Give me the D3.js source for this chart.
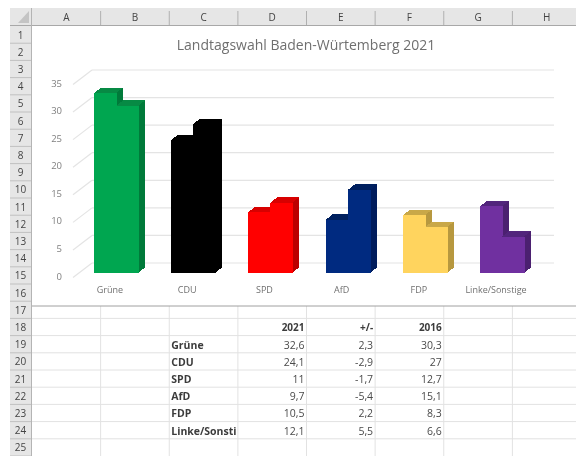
<!DOCTYPE html>
<html>
<head>
<meta charset="utf-8">
<script src="https://cdn.jsdelivr.net/npm/d3@7/dist/d3.min.js"></script>
<style>
  html, body { margin: 0; padding: 0; background: #fff; }
  svg { display: block; filter: blur(0.5px); }
  text { font-family: "Open Sans", sans-serif; }
</style>
</head>
<body>
<div id="chart"></div>
<script>
const categories = ["Grüne", "CDU", "SPD", "AfD", "FDP", "Linke/Sonstige"]
const votes2021 = [32.6, 24.1, 11, 9.7, 10.5, 12.1]
const change = [2.3, -2.9, -1.7, -5.4, 2.2, 5.5]
const votes2016 = [30.3, 27, 12.7, 15.1, 8.3, 6.6]
const tableHeader = ["2021", "+/-", "2016"]
const yTicks = [0, 5, 10, 15, 20, 25, 30, 35]
const columnLetters = ["A", "B", "C", "D", "E", "F", "G", "H"]
const rowNumbers = d3.range(1, 26)
const frontColors = ["#00a650", "#000000", "#ff0000", "#002a80", "#ffd45e", "#7030a0"]
const sideColors = ["#007a3a", "#000000", "#bb0000", "#001c5c", "#b7983f", "#4b2070"]
const topColors = ["#078a44", "#000000", "#d80000", "#00205f", "#c9a848", "#52257c"]

const W = 576, H = 456
const svg = d3.select("#chart").append("svg")
  .attr("width", W).attr("height", H).attr("viewBox", `0 0 ${W} ${H}`)

// Tabellenblatt : en-têtes
const colX = d3.scaleLinear().domain([0, 8]).range([32, 581])
const rowY = d3.scaleLinear().domain([1, 26]).range([26, 456])

svg.append("rect").attr("x", 10).attr("y", 8).attr("width", W - 10).attr("height", 18).attr("fill", "#e6e6e6")
svg.append("rect").attr("x", 10).attr("y", 8).attr("width", 22).attr("height", H - 8).attr("fill", "#e6e6e6")
svg.append("path").attr("d", "M29,11 L29,23 L18,23 Z").attr("fill", "#c4c4c4")
svg.append("line").attr("x1", 10).attr("x2", W).attr("y1", 25.5).attr("y2", 25.5).attr("stroke", "#a8a8a8")
svg.append("line").attr("x1", 31.5).attr("x2", 31.5).attr("y1", 8).attr("y2", H).attr("stroke", "#b4b4b4")

svg.selectAll("line.colsep").data(d3.range(1, 8)).join("line")
  .attr("class", "colsep")
  .attr("x1", (d) => colX(d)).attr("x2", (d) => colX(d))
  .attr("y1", 11).attr("y2", 25).attr("stroke", "#b0b0b0")

svg.selectAll("text.col").data(columnLetters).join("text")
  .attr("class", "col")
  .attr("x", (d, i) => colX(i + 0.5)).attr("y", 21)
  .attr("text-anchor", "middle").attr("font-size", 10).attr("fill", "#444")
  .text((d) => d)

svg.selectAll("line.rowsep").data(rowNumbers).join("line")
  .attr("class", "rowsep")
  .attr("x1", 10).attr("x2", 31)
  .attr("y1", (d) => rowY(d + 1)).attr("y2", (d) => rowY(d + 1))
  .attr("stroke", "#c0c0c0")

svg.selectAll("text.row").data(rowNumbers).join("text")
  .attr("class", "row")
  .attr("x", 20.5).attr("y", (d) => rowY(d) + 12.5)
  .attr("text-anchor", "middle").attr("font-size", 10).attr("fill", "#444")
  .text((d) => d)

// Grille des cellules sous le graphique
svg.selectAll("line.cellh").data(d3.range(18, 26)).join("line")
  .attr("class", "cellh")
  .attr("x1", 32).attr("x2", W)
  .attr("y1", (d) => rowY(d)).attr("y2", (d) => rowY(d))
  .attr("stroke", "#e2e2e2")

svg.selectAll("line.cellv").data(d3.range(1, 8)).join("line")
  .attr("class", "cellv")
  .attr("x1", (d) => colX(d)).attr("x2", (d) => colX(d))
  .attr("y1", 306).attr("y2", H)
  .attr("stroke", "#e2e2e2")

svg.append("line").attr("x1", 32).attr("x2", W).attr("y1", 306).attr("y2", 306).attr("stroke", "#a0a0a0")

// Titre
svg.append("text")
  .attr("x", 306).attr("y", 50)
  .attr("text-anchor", "middle").attr("font-size", 14).attr("fill", "#6f6f6f")
  .text("Landtagswahl Baden-Würtemberg 2021")

// Échelles
const yWall = d3.scaleLinear().domain([0, 35]).range([263, 70])
const yFront = d3.scaleLinear().domain([0, 35]).range([273, 80])
const x = d3.scaleBand().domain(categories).range([77.4, 540.6]).paddingInner(0).paddingOuter(0)
const barW = 22, depthX = 7, depthY = 5.5

// Grille du fond + fuyantes
svg.selectAll("line.grid").data(yTicks).join("line")
  .attr("class", "grid")
  .attr("x1", 92).attr("x2", 554)
  .attr("y1", (d) => yWall(d)).attr("y2", (d) => yWall(d))
  .attr("stroke", "#e4e4e4").attr("stroke-width", 1.2)

svg.selectAll("line.slant").data(yTicks).join("line")
  .attr("class", "slant")
  .attr("x1", 73).attr("x2", 92)
  .attr("y1", (d) => yWall(d) + 14.5).attr("y2", (d) => yWall(d))
  .attr("stroke", "#e4e4e4").attr("stroke-width", 1.2)

svg.selectAll("text.ytick").data(yTicks).join("text")
  .attr("class", "ytick")
  .attr("x", 62).attr("y", (d) => yWall(d) + 16.5)
  .attr("text-anchor", "end").attr("font-size", 9.5).attr("fill", "#808080")
  .text((d) => d)

// Colonnes 3D : 2021 à gauche puis 2016 à droite
function drawBar(g, x0, value, i) {
  const y0 = yFront(0), yt = yFront(value)
  const x1 = x0 + barW
  g.append("polygon").attr("fill", sideColors[i])
    .attr("points", [[x1, y0], [x1 + depthX, y0 - depthY], [x1 + depthX, yt - depthY], [x1, yt]].join(" "))
  g.append("polygon").attr("fill", topColors[i])
    .attr("points", [[x0, yt], [x0 + depthX, yt - depthY], [x1 + depthX, yt - depthY], [x1, yt]].join(" "))
  // petit recouvrement à gauche pour masquer la couture entre les deux colonnes
  g.append("rect").attr("fill", frontColors[i])
    .attr("x", x0).attr("y", yt).attr("width", barW + 0.5).attr("height", y0 - yt)
}

const bars = svg.append("g")
categories.forEach((c, i) => {
  const cx = Math.round(x(c) + x.bandwidth() / 2)
  const g = bars.append("g").attr("shape-rendering", "crispEdges")
  drawBar(g, cx - barW, votes2021[i], i)
  drawBar(g, cx, votes2016[i], i)
})

svg.selectAll("text.cat").data(categories).join("text")
  .attr("class", "cat")
  .attr("x", (d) => x(d) + x.bandwidth() / 2 - 6).attr("y", 293)
  .attr("text-anchor", "middle").attr("font-size", 9).attr("fill", "#707070")
  .text((d) => d)

// Tableau
const tableRow = (i) => rowY(19 + i) + 13
const tableColor = "#4a4a4a"

svg.selectAll("text.head").data(tableHeader).join("text")
  .attr("class", "head")
  .attr("x", (d, i) => colX(4 + i) - 2).attr("y", rowY(18) + 13)
  .attr("text-anchor", "end").attr("font-size", 10).attr("font-weight", 700).attr("fill", "#3c3c3c")
  .text((d) => d)

svg.selectAll("text.label").data(categories).join("text")
  .attr("class", "label")
  .attr("x", colX(2) + 2).attr("y", (d, i) => tableRow(i))
  .attr("font-size", 10.5).attr("font-weight", 700).attr("fill", "#3c3c3c")
  .text((d) => d.slice(0, 12))

const fmt = (v) => String(v).replace(".", ",")
;[votes2021, change, votes2016].forEach((values, c) => {
  svg.append("g").selectAll("text").data(values).join("text")
    .attr("x", colX(4 + c) - 2).attr("y", (d, i) => tableRow(i))
    .attr("text-anchor", "end").attr("font-size", 10.5).attr("fill", tableColor)
    .text(fmt)
})
</script>
</body>
</html>
